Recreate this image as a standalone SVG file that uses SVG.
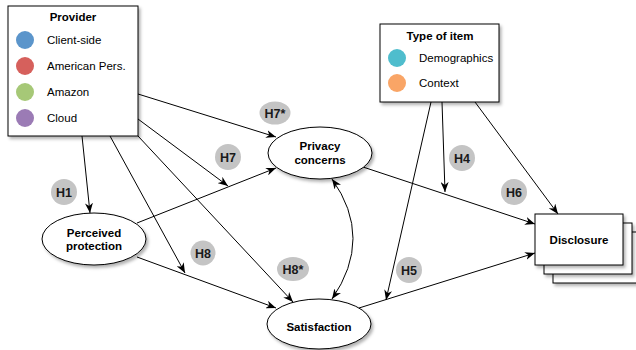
<svg xmlns="http://www.w3.org/2000/svg" width="636" height="350" viewBox="0 0 636 350">
<style>
  .box { fill: #ffffff; stroke: #000000; stroke-width: 1; }
  .sh { filter: url(#shadow); }
  .edge { fill: none; stroke: #000000; stroke-width: 1; }
  .badge { fill: #c4c4c4; stroke: none; }
  .t { font-family: "Liberation Sans", Arial, Helvetica, sans-serif; font-size: 11.5px; fill: #000000; }
  .b { font-weight: bold; }
  .c { text-anchor: middle; }
  .bt { font-family: "Liberation Sans", Arial, Helvetica, sans-serif; font-size: 12.5px; font-weight: bold; fill: #1a1a1a; text-anchor: middle; }
</style>
<defs>
  <filter id="shadow" x="-10%" y="-10%" width="130%" height="130%">
    <feDropShadow dx="2" dy="2.5" stdDeviation="1.5" flood-color="#000000" flood-opacity="0.3"/>
  </filter>
  <marker id="arr" viewBox="0 0 10 8" refX="10" refY="4" markerWidth="10" markerHeight="8" markerUnits="userSpaceOnUse" orient="auto-start-reverse">
    <path d="M0,0 L10,4 L0,8 L3,4 z" fill="#000000"/>
  </marker>
</defs>
<rect x="0" y="0" width="636" height="350" fill="#ffffff"/>

<g id="connectors">
  <path class="edge" d="M82,136 L90,213" marker-end="url(#arr)"/>
  <path class="edge" d="M138,94 L276,137" marker-end="url(#arr)"/>
  <path class="edge" d="M138,119 L228,186" marker-end="url(#arr)"/>
  <path class="edge" d="M137,223 L276,168" marker-end="url(#arr)"/>
  <path class="edge" d="M110,136 L185,273" marker-end="url(#arr)"/>
  <path class="edge" d="M137,257 L276,308" marker-end="url(#arr)"/>
  <path class="edge" d="M138,136 L293,302" marker-end="url(#arr)"/>
  <path class="edge" d="M332,179 Q374,238 332,299" marker-start="url(#arr)" marker-end="url(#arr)"/>
  <path class="edge" d="M363,167 L535,224" marker-end="url(#arr)"/>
  <path class="edge" d="M442,102 L445,192" marker-end="url(#arr)"/>
  <path class="edge" d="M475,102 L558,214" marker-end="url(#arr)"/>
  <path class="edge" d="M431,102 L386,300" marker-end="url(#arr)"/>
  <path class="edge" d="M359,308 L535,253" marker-end="url(#arr)"/>
</g>

<g id="provider">
  <rect class="box sh" x="8" y="6" width="130" height="130"/>
  <text class="t b c" x="73" y="21">Provider</text>
  <circle cx="25" cy="40" r="9" fill="#5b95cb"/>
  <text class="t" x="47" y="44">Client-side</text>
  <circle cx="25" cy="66" r="9" fill="#d6605c"/>
  <text class="t" x="47" y="70">American Pers.</text>
  <circle cx="25" cy="92" r="9" fill="#a6c877"/>
  <text class="t" x="47" y="96">Amazon</text>
  <circle cx="25" cy="118" r="9" fill="#9b7bb5"/>
  <text class="t" x="47" y="122">Cloud</text>
</g>

<g id="type-of-item">
  <rect class="box sh" x="380" y="24" width="119" height="78"/>
  <text class="t b c" x="440" y="40">Type of item</text>
  <circle cx="397" cy="58" r="9" fill="#4fbdcd"/>
  <text class="t" x="419" y="62">Demographics</text>
  <circle cx="397" cy="83" r="9" fill="#f9a566"/>
  <text class="t" x="419" y="87">Context</text>
</g>

<g id="perceived-protection">
  <ellipse class="box sh" cx="94" cy="239" rx="52" ry="26"/>
  <text class="t b c" x="94" y="237">Perceived</text>
  <text class="t b c" x="94" y="250">protection</text>
</g>

<g id="privacy-concerns">
  <ellipse class="box sh" cx="320" cy="153" rx="52" ry="26"/>
  <text class="t b c" x="320" y="150">Privacy</text>
  <text class="t b c" x="320" y="164">concerns</text>
</g>

<g id="satisfaction">
  <ellipse class="box sh" cx="319" cy="324" rx="52" ry="25"/>
  <text class="t b c" x="319" y="331">Satisfaction</text>
</g>

<g id="disclosure">
  <rect class="box sh" x="553" y="232" width="88" height="51"/>
  <rect class="box sh" x="544" y="223" width="88" height="51"/>
  <rect class="box sh" x="535" y="214" width="88" height="51"/>
  <text class="t b c" x="579" y="244">Disclosure</text>
</g>

<g id="badge-h1"><circle class="badge" cx="64" cy="192" r="13"/><text class="bt" x="64" y="196.5">H1</text></g>
<g id="badge-h7s"><ellipse class="badge" cx="275" cy="113" rx="15.5" ry="11.5"/><text class="bt" x="275" y="117.5">H7*</text></g>
<g id="badge-h7"><circle class="badge" cx="228" cy="157" r="13"/><text class="bt" x="228" y="161.5">H7</text></g>
<g id="badge-h8"><circle class="badge" cx="203" cy="253" r="12.5"/><text class="bt" x="203" y="257.5">H8</text></g>
<g id="badge-h8s"><ellipse class="badge" cx="293" cy="269" rx="16" ry="12"/><text class="bt" x="293" y="273.5">H8*</text></g>
<g id="badge-h4"><circle class="badge" cx="462" cy="158" r="13"/><text class="bt" x="462" y="162.5">H4</text></g>
<g id="badge-h6"><circle class="badge" cx="514" cy="192" r="13"/><text class="bt" x="514" y="196.5">H6</text></g>
<g id="badge-h5"><circle class="badge" cx="409" cy="270" r="13"/><text class="bt" x="409" y="274.5">H5</text></g>
</svg>
